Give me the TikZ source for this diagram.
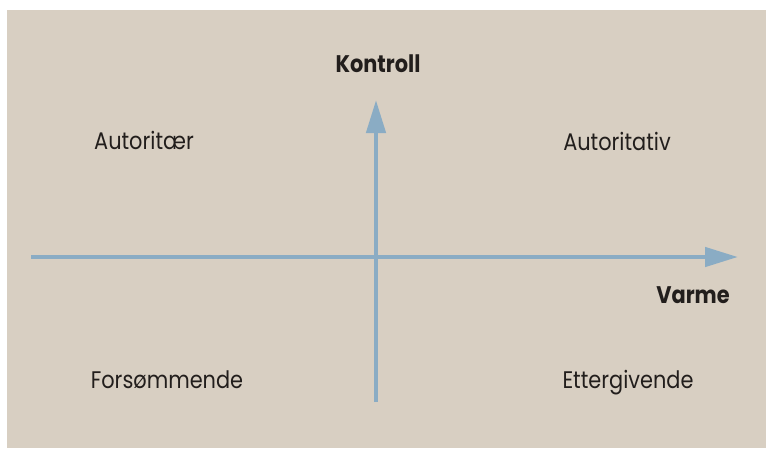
\documentclass[tikz,border=0pt]{standalone}
\usepackage{fontspec}
\setmainfont{Poppins}[FakeStretch=0.87]
\usetikzlibrary{arrows.meta}
\definecolor{paper}{RGB}{216,207,194}
\definecolor{axisblue}{RGB}{138,172,196}
\definecolor{ink}{RGB}{34,30,28}
\tikzset{
  axis/.style={line width=4.5pt, draw=axisblue, -{Triangle[length=33pt,width=19pt]}},
  quad/.style={font=\fontsize{24}{28}\selectfont, text=ink, inner sep=0pt, anchor=base},
  axlabel/.style={font=\fontsize{24}{28}\selectfont\bfseries, text=ink, inner sep=0pt, anchor=base}
}
\begin{document}
\begin{tikzpicture}[x=1pt,y=-1pt]
\useasboundingbox (0,0) rectangle (766,448);
\fill[white] (0,0) rectangle (766,448);
\fill[paper] (7,10) rectangle (766,448);
\coordinate (hstart) at (31,257);
\coordinate (hend) at (738,257);
\coordinate (vstart) at (376,402);
\coordinate (vend) at (376,100);
\draw[axis] (hstart) -- (hend);
\draw[axis] (vstart) -- (vend);
\node[axlabel] (kontroll) at (378,72) {Kontroll};
\node[axlabel] (varme) at (693,303) {Varme};
\node[quad] (autoritaer) at (144,149) {Autoritær};
\node[quad] (autoritativ) at (617,150) {Autoritativ};
\node[quad] (forsommende) at (167,388) {Forsømmende};
\node[quad] (ettergivende) at (628,388) {Ettergivende};
\end{tikzpicture}
\end{document}
